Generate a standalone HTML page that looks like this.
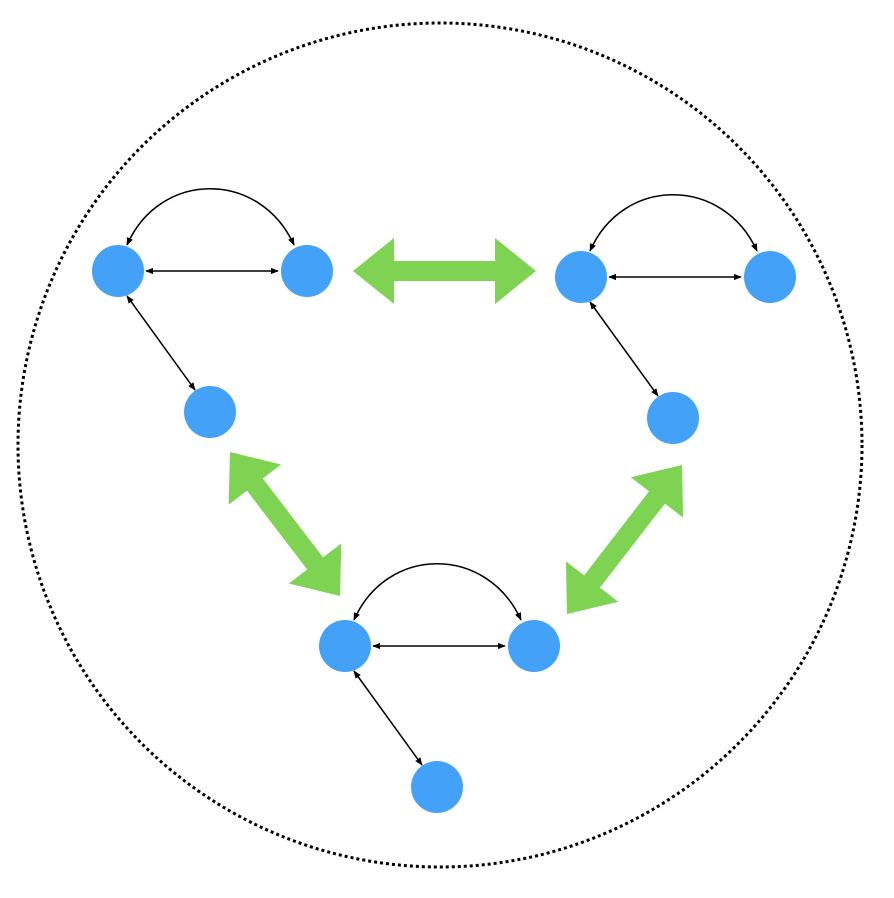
<!DOCTYPE html>
<html><head><meta charset="utf-8"><style>html,body{margin:0;padding:0;background:#fff}svg{display:block}</style></head>
<body>
<svg id="s" width="894" height="898" viewBox="0 0 894 898" xmlns="http://www.w3.org/2000/svg">
<defs>
<marker id="ah" viewBox="0 0 10 10" refX="9" refY="5" markerWidth="8" markerHeight="8" markerUnits="userSpaceOnUse" orient="auto-start-reverse"><path d="M0,1 L10,5 L0,9 z" fill="#000"/></marker>
</defs>
<ellipse cx="440" cy="445" rx="422" ry="422" fill="none" stroke="#000" stroke-width="3" stroke-dasharray="3,3"/>
<g id="g"></g>
</svg>
<script>
const clusterOrigins=[[118,271],[581,277],[345,646]];
const clusterNames=['cluster-left','cluster-right','cluster-bottom'];
const greenArrows=[[353,271,536,271],[230,452,340,596],[567,614,682,465]];
const greenNames=['link-left-right','link-left-bottom','link-right-bottom'];
const NS='http://www.w3.org/2000/svg';
const g=document.getElementById('g');
function mk(t,a){const e=document.createElementNS(NS,t);for(const k in a)e.setAttribute(k,a[k]);g.appendChild(e);return e;}
clusterOrigins.forEach((o,i)=>{
  const [x,y]=o;
  const c=mk('path',{d:`M${x+9},${y-26} C${x+42},${y-101} ${x+142},${y-101} ${x+176},${y-26}`,fill:'none',stroke:'#000','stroke-width':1.5,'marker-start':'url(#ah)','marker-end':'url(#ah)'});
  
  
  const h=mk('line',{x1:x+28,y1:y,x2:x+160,y2:y,stroke:'#000','stroke-width':1.5,'marker-start':'url(#ah)','marker-end':'url(#ah)'});
  
  
  const d=mk('line',{x1:x+9,y1:y+25,x2:x+77,y2:y+119,stroke:'#000','stroke-width':1.5,'marker-start':'url(#ah)','marker-end':'url(#ah)'});
  
  
  [[0,0],[189,0],[92,141]].forEach((p,j)=>{
    const n=mk('circle',{cx:x+p[0],cy:y+p[1],r:26,fill:'#43a1f8'});
    
    
  });
});
greenArrows.forEach((a,i)=>{
  const [x1,y1,x2,y2]=a;
  const L=Math.hypot(x2-x1,y2-y1),ang=Math.atan2(y2-y1,x2-x1)*180/Math.PI;
  const hl=41,hw=33,sw=10;
  const pts=[[0,0],[hl,-hw],[hl,-sw],[L-hl,-sw],[L-hl,-hw],[L,0],[L-hl,hw],[L-hl,sw],[hl,sw],[hl,hw]].map(p=>p.join(',')).join(' ');
  const p=mk('polygon',{points:pts,fill:'#7ed352',transform:`translate(${x1},${y1}) rotate(${ang})`});
  
  
});
</script>
</body></html>
